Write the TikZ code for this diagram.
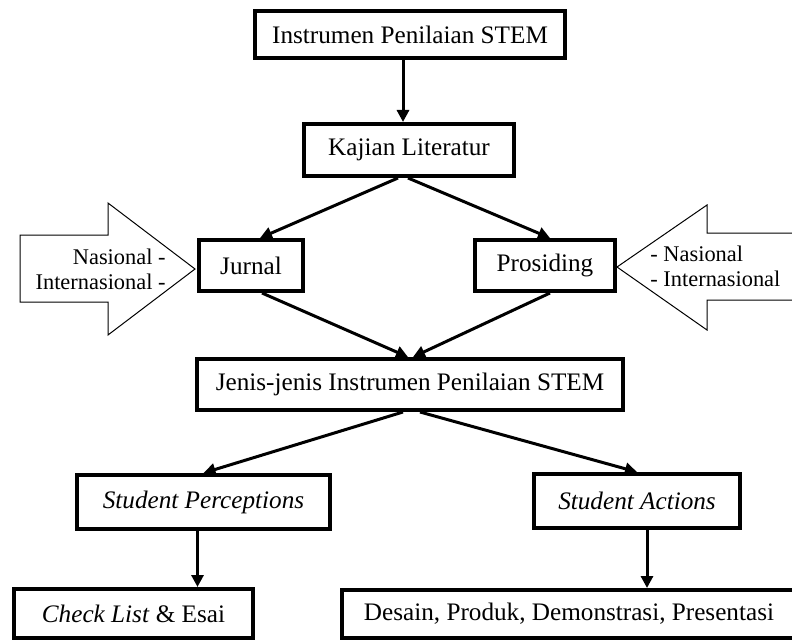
\documentclass[tikz,border=0pt]{standalone}
\usepackage{fontspec}
\setmainfont{Liberation Serif}
\usetikzlibrary{arrows.meta}

\begin{document}
\begin{tikzpicture}[
  x=0.5pt, y=-0.5pt,
  sbox/.style={draw, line width=2pt, inner sep=2pt, align=center, font=\fontsize{12.6}{15}\selectfont},
  arr/.style={line width=1.5pt, -{Triangle[length=6pt, width=6pt]}},
  sidearrow/.style={draw, line width=0.5pt, line join=miter},
  sidetext/.style={font=\fontsize{11.2}{12.5}\selectfont, inner sep=0pt}
]
  \useasboundingbox (0,0) rectangle (792,642);

  % main boxes
  \node[sbox, minimum width=155pt, minimum height=23.5pt] (instr) at (410,34.5) {Instrumen Penilaian STEM};
  \node[sbox, minimum width=105pt, minimum height=26pt] (kajian) at (409,150) {Kajian Literatur};
  \node[sbox, minimum width=52pt, minimum height=25.5pt] (jurnal) at (251,265.5) {Jurnal};
  \node[sbox, minimum width=70pt, minimum height=25.5pt] (prosiding) at (545,265.5) {Prosiding};
  \node[sbox, minimum width=213pt, minimum height=25.5pt] (jenis) at (410,384.5) {Jenis-jenis Instrumen Penilaian STEM};
  \node[sbox, minimum width=126.5pt, minimum height=27pt] (percep) at (203.5,502) {\textit{Student Perceptions}};
  \node[sbox, minimum width=103pt, minimum height=27pt] (actions) at (637,501) {\textit{Student Actions}};
  \node[sbox, minimum width=119.5pt, minimum height=24.5pt] (checklist) at (133.5,613.5) {\textit{Check List} \& Esai};
  \node[sbox, minimum width=227pt, minimum height=24pt] (desain) at (569,614) {Desain, Produk, Demonstrasi, Presentasi};

  % side arrows
  \draw[sidearrow] (195,269) -- (108,203) -- (108,235) -- (20,235) -- (20,302) -- (108,302) -- (108,335) -- cycle;
  \draw[sidearrow] (792,233) -- (707,233) -- (707,205) -- (617,267) -- (707,330) -- (707,300) -- (792,300);
  \node[sidetext, align=right, anchor=east] (nasleft) at (166,269) {Nasional -\\Internasional -};
  \node[sidetext, align=left, anchor=west] (nasright) at (650,266) {- Nasional\\- Internasional};

  % connectors
  \draw[arr] ([xshift=-3.5pt]instr.south) -- ([xshift=-3pt]kajian.north);
  \draw[arr] ([xshift=-5.5pt]kajian.south) -- ([xshift=4.5pt]jurnal.north);
  \draw[arr] ([xshift=-0.5pt]kajian.south) -- ([xshift=2.5pt]prosiding.north);
  \draw[arr] ([xshift=5.5pt]jurnal.south) -- ([xshift=-1pt]jenis.north);
  \draw[arr] ([xshift=2.5pt]prosiding.south) -- ([xshift=1.5pt]jenis.north);
  \draw[arr] ([xshift=-3.5pt]jenis.south) -- (percep.north);
  \draw[arr] ([xshift=5pt]jenis.south) -- (actions.north);
  \draw[arr] ([xshift=-3pt]percep.south) -- ([xshift=-3pt]percep.south |- checklist.north);
  \draw[arr] ([xshift=5pt]actions.south) -- ([xshift=5pt]actions.south |- desain.north);
\end{tikzpicture}
\end{document}
